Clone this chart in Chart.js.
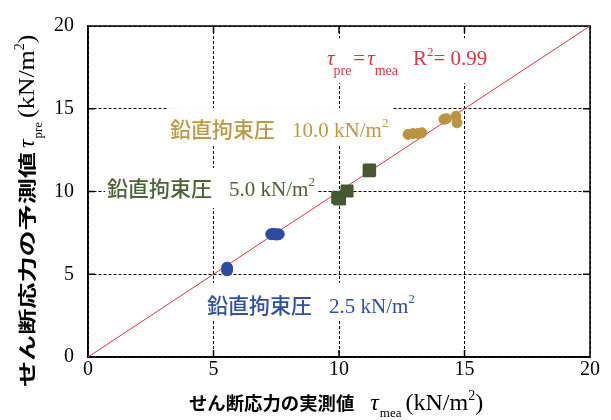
<!DOCTYPE html>
<html>
<head>
<meta charset="utf-8">
<script src="https://cdn.jsdelivr.net/npm/chart.js@4"></script>
<style>
  html, body { margin: 0; padding: 0; background: #ffffff; }
  #wrap { width: 611px; height: 420px; }
</style>
</head>
<body>
<div id="wrap"><canvas id="c" width="611" height="420"></canvas></div>
<script>
// Measured vs predicted shear stress (kN/m²) for three vertical confining pressures
const blueX  = [5.54, 5.54, 7.30, 7.40, 7.50, 7.60];
const blueY  = [5.40, 5.24, 7.42, 7.44, 7.40, 7.42];
const greenX = [9.95, 10.02, 10.32, 11.20, 11.22];
const greenY = [9.65, 9.55, 10.03, 11.25, 11.30];
const goldX  = [12.75, 12.95, 13.15, 13.30, 14.18, 14.28, 14.66, 14.70];
const goldY  = [13.45, 13.50, 13.50, 13.55, 14.36, 14.40, 14.55, 14.15];
const lineX  = [0, 20];          // τpre = τmea
const lineY  = [0, 20];
const axisTicks = [0, 5, 10, 15, 20];
const groupName = '鉛直拘束圧';
const pressures = ['2.5', '5.0', '10.0'];
const r2Text = '0.99';

const SERIF = '"Liberation Serif", "Times New Roman", serif';
const JP = '"Noto Sans CJK JP", "Noto Sans CJK SC", sans-serif';
const RED = '#DE3640';
const BLUE = '#2B4CA2', BLUE_T = '#2E4FA3';
const GREEN = '#46582F', GREEN_T = '#4C6137';
const GOLD = '#B8953E', GOLD_T = '#BC9942';

const pts = (xs, ys) => xs.map((x, i) => ({ x, y: ys[i] }));

function measureRich(ctx, parts) {
  let w = 0;
  for (const p of parts) {
    if (p.gap) { w += p.gap; continue; }
    ctx.font = p.f;
    w += ctx.measureText(p.t).width * (p.sx || 1) + (p.after || 0);
  }
  return w;
}
function drawRich(ctx, x, y, parts, color) {
  ctx.fillStyle = color;
  ctx.textAlign = 'left';
  ctx.textBaseline = 'alphabetic';
  let cx = x;
  for (const p of parts) {
    if (p.gap) { cx += p.gap; continue; }
    ctx.font = p.f;
    const w = ctx.measureText(p.t).width * (p.sx || 1);
    ctx.save();
    ctx.translate(cx, y + (p.dy || 0));
    ctx.scale(p.sx || 1, 1);
    ctx.fillText(p.t, 0, 0);
    ctx.restore();
    cx += w + (p.after || 0);
  }
  return cx - x;
}

const pressureParts = (val) => [
  { t: groupName, f: '500 21px ' + JP },
  { gap: 17 },
  { t: val + ' kN/m', f: '21px ' + SERIF },
  { t: '2', f: '13px ' + SERIF, dy: -10 }
];
const fitParts = [
  { t: 'τ', f: 'italic 21px ' + SERIF, after: -1 },
  { t: 'pre', f: '14px ' + SERIF, dy: 10, after: 2 },
  { t: '=', f: '21px ' + SERIF, after: 2 },
  { t: 'τ', f: 'italic 21px ' + SERIF, after: 0 },
  { t: 'mea', f: '14px ' + SERIF, dy: 10 },
  { gap: 15 },
  { t: 'R', f: '21px ' + SERIF },
  { t: '2', f: '13px ' + SERIF, dy: -9 },
  { t: '= ' + r2Text, f: '21px ' + SERIF }
];

// text labels anchored in data coordinates; pad = [left, above, right, below] of the white backing box
const notes = [
  { x: 9.52, y: 17.63, color: RED,     parts: fitParts,                    pad: [7, 27, 8, 18] },
  { x: 3.27, y: 13.29, color: GOLD_T,  parts: pressureParts(pressures[2]), pad: [2, 29, 5, 7] },
  { x: 0.76, y: 9.73,  color: GREEN_T, parts: pressureParts(pressures[1]), pad: [2, 28, 3, 12] },
  { x: 4.74, y: 2.67,  color: BLUE_T,  parts: pressureParts(pressures[0]), pad: [7, 30, 5, 6] }
];

const xTitle = [
  { t: 'せん断応力の実測値', f: 'bold 18px ' + JP, sx: 1.02 },
  { gap: 16 },
  { t: 'τ', f: 'italic 24px ' + SERIF, after: 1 },
  { t: 'mea', f: '13px ' + SERIF, dy: 7 },
  { gap: 4 },
  { t: '(kN/m', f: '24px ' + SERIF },
  { t: '2', f: '14px ' + SERIF, dy: -10 },
  { t: ')', f: '24px ' + SERIF }
];
const yTitle = [
  { t: 'せん断応力の予測値', f: 'bold 18px ' + JP, sx: 1.45 },
  { gap: 4 },
  { t: 'τ', f: 'italic 24px ' + SERIF, after: 1 },
  { t: 'pre', f: '13px ' + SERIF, dy: 8 },
  { gap: 4 },
  { t: '(kN/m', f: '24px ' + SERIF, sx: 1.08 },
  { t: '2', f: '14px ' + SERIF, dy: -10 },
  { t: ')', f: '24px ' + SERIF, sx: 1.08 }
];

const framePlugin = {
  id: 'frame',
  beforeDatasetsDraw(chart) {
    const { ctx, chartArea: a, scales: { x, y } } = chart;
    ctx.save();
    // white backing boxes behind the text labels
    ctx.fillStyle = '#ffffff';
    for (const n of notes) {
      const sx = x.getPixelForValue(n.x), by = y.getPixelForValue(n.y);
      const w = measureRich(ctx, n.parts);
      ctx.fillRect(sx - n.pad[0], by - n.pad[1], w + n.pad[0] + n.pad[2], n.pad[1] + n.pad[3]);
    }
    // solid frame and inward ticks
    ctx.strokeStyle = '#000';
    ctx.lineWidth = 1.5;
    ctx.setLineDash([]);
    ctx.strokeRect(a.left, a.top, a.right - a.left, a.bottom - a.top);
    ctx.beginPath();
    for (const v of axisTicks.slice(1, -1)) {
      const px = x.getPixelForValue(v), py = y.getPixelForValue(v);
      ctx.moveTo(px, a.top); ctx.lineTo(px, a.top + 7);
      ctx.moveTo(px, a.bottom); ctx.lineTo(px, a.bottom - 7);
      ctx.moveTo(a.left, py); ctx.lineTo(a.left + 7, py);
      ctx.moveTo(a.right, py); ctx.lineTo(a.right - 7, py);
    }
    ctx.stroke();
    ctx.restore();
  },
  afterDraw(chart) {
    const { ctx, scales: { x, y } } = chart;
    ctx.save();
    for (const n of notes) {
      drawRich(ctx, x.getPixelForValue(n.x), y.getPixelForValue(n.y), n.parts, n.color);
    }
    drawRich(ctx, 189, 410, xTitle, '#000');
    ctx.save();
    ctx.translate(34, 387);
    ctx.rotate(-Math.PI / 2);
    drawRich(ctx, 0, 0, yTitle, '#000');
    ctx.restore();
    ctx.restore();
  }
};

const tickFont = { family: SERIF, size: 20 };

new Chart(document.getElementById('c'), {
  type: 'scatter',
  data: {
    datasets: [
      { label: 'blue', data: pts(blueX, blueY), pointStyle: 'circle', pointRadius: 5.5,
        backgroundColor: BLUE, borderColor: BLUE, borderWidth: 1 },
      { label: 'green', data: pts(greenX, greenY), pointStyle: 'rect', pointRadius: 8.5,
        backgroundColor: GREEN, borderColor: GREEN, borderWidth: 1 },
      { label: 'gold', data: pts(goldX, goldY), pointStyle: 'circle', pointRadius: 5,
        backgroundColor: GOLD, borderColor: GOLD, borderWidth: 1 },
      { label: 'fit', type: 'line', data: pts(lineX, lineY), showLine: true,
        borderColor: RED, borderWidth: 1, pointRadius: 0, fill: false }
    ]
  },
  options: {
    responsive: false,
    animation: false,
    devicePixelRatio: 1,
    layout: { padding: { top: 20, right: 21, left: 0, bottom: 0 } },
    plugins: { legend: { display: false }, tooltip: { enabled: false } },
    scales: {
      x: {
        type: 'linear', min: 0, max: 20,
        afterBuildTicks: s => { s.ticks = axisTicks.map(v => ({ value: v })); },
        afterFit: s => { s.height = 63; },
        ticks: { font: tickFont, color: '#000', padding: 1, maxRotation: 0, autoSkip: false },
        grid: { color: '#000', lineWidth: 1, drawTicks: false },
        border: { display: true, color: '#000', width: 1.5, dash: [3, 2] }
      },
      y: {
        type: 'linear', min: 0, max: 20,
        afterBuildTicks: s => { s.ticks = axisTicks.map(v => ({ value: v })); },
        afterFit: s => { s.width = 88; },
        ticks: { font: tickFont, color: '#000', padding: 14, autoSkip: false },
        grid: { color: '#000', lineWidth: 1, drawTicks: false },
        border: { display: true, color: '#000', width: 1.5, dash: [3, 2] }
      }
    }
  },
  plugins: [framePlugin]
});
</script>
</body>
</html>
